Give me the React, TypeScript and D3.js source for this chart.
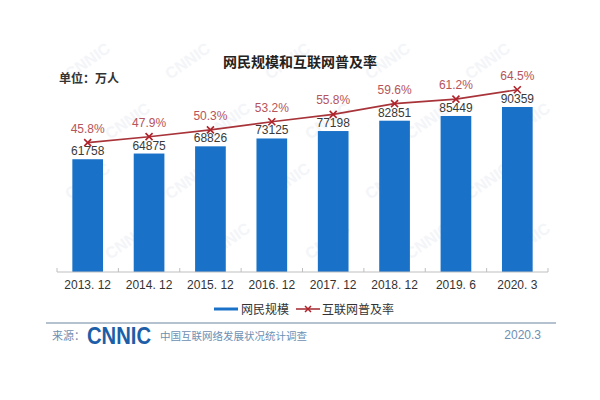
import * as d3 from 'd3';
import { useEffect, useRef } from 'react';

const categories = ['2013. 12', '2014. 12', '2015. 12', '2016. 12', '2017. 12', '2018. 12', '2019. 6', '2020. 3'];
const users = [61758, 64875, 68826, 73125, 77198, 82851, 85449, 90359];
const rates = [45.8, 47.9, 50.3, 53.2, 55.8, 59.6, 61.2, 64.5];

const width = 600;
const height = 400;
const font = '"Liberation Sans", Arial, sans-serif';
const cjk = '"Noto Sans CJK SC", sans-serif';

export default function App() {
  const ref = useRef<SVGSVGElement>(null);

  useEffect(() => {
    const svg = d3.select(ref.current);
    svg.selectAll('*').remove();

    const base = 272;
    const x = d3.scaleBand<string>().domain(categories).range([57, 548]).paddingInner(0.5).paddingOuter(0.25);
    const y = d3.scaleLinear().domain([0, 100000]).range([base, base - 182.6]);
    const yp = d3.scaleLinear().domain([0, 100]).range([base, base - 282.5]);
    const step = x.step();

    // faint watermark, kept inside the frame
    const wm = svg.append('g').attr('fill', '#f3f5f8').attr('font-family', font).attr('font-weight', 'bold').attr('font-size', 16);
    for (let r = 0; r < 4; r++) {
      for (let c = 0; c < 5; c++) {
        const wx = 70 + c * 100 + (r % 2) * 40;
        const wy = 80 + r * 60;
        wm.append('text').attr('transform', `translate(${wx},${wy}) rotate(-35)`).text('CNNIC');
      }
    }

    svg.append('text')
      .attr('x', 300).attr('y', 67).attr('text-anchor', 'middle')
      .attr('font-family', cjk).attr('font-weight', 'bold').attr('font-size', 14).attr('fill', '#222')
      .text('网民规模和互联网普及率');

    svg.append('text')
      .attr('x', 59).attr('y', 83)
      .attr('font-family', cjk).attr('font-weight', 'bold').attr('font-size', 12).attr('fill', '#333')
      .text('单位：万人');

    // bars
    svg.append('g').selectAll('rect').data(users).join('rect')
      .attr('x', (_, i) => x(categories[i])!)
      .attr('y', (d) => y(d))
      .attr('width', x.bandwidth())
      .attr('height', (d) => base - y(d))
      .attr('fill', '#1a72c8');

    svg.append('g').selectAll('text').data(users).join('text')
      .attr('x', (_, i) => x(categories[i])! + x.bandwidth() / 2)
      .attr('y', (d) => y(d) - 4)
      .attr('text-anchor', 'middle')
      .attr('font-family', font).attr('font-size', 12).attr('fill', '#3a3a3a')
      .text((d) => d);

    // axis
    svg.append('line').attr('x1', 57).attr('x2', 548).attr('y1', base).attr('y2', base)
      .attr('stroke', '#bfbfbf').attr('stroke-width', 1);
    const bounds = categories.map((c) => x(c)! + x.bandwidth() / 2 - step / 2);
    bounds.push(x(categories[categories.length - 1])! + x.bandwidth() / 2 + step / 2);
    svg.append('g').selectAll('line').data(bounds).join('line')
      .attr('x1', (d) => d).attr('x2', (d) => d).attr('y1', base).attr('y2', base - 4)
      .attr('stroke', '#bfbfbf');

    svg.append('g').selectAll('text').data(categories).join('text')
      .attr('x', (d) => x(d)! + x.bandwidth() / 2)
      .attr('y', 289)
      .attr('text-anchor', 'middle')
      .attr('font-family', font).attr('font-size', 12).attr('fill', '#333')
      .text((d) => d);

    // rate line
    const pts = rates.map((r, i) => [x(categories[i])! + x.bandwidth() / 2, yp(r)] as [number, number]);
    svg.append('path').attr('d', d3.line()(pts)!)
      .attr('fill', 'none').attr('stroke', '#a8343a').attr('stroke-width', 1.6);

    const s = 3.5;
    svg.append('g').selectAll('path').data(pts).join('path')
      .attr('d', ([px, py]) => `M${px - s},${py - s}L${px + s},${py + s}M${px - s},${py + s}L${px + s},${py - s}`)
      .attr('stroke', '#b0232b').attr('stroke-width', 1.6);

    svg.append('g').selectAll('text').data(rates).join('text')
      .attr('x', (_, i) => pts[i][0])
      .attr('y', (_, i) => pts[i][1] - 10)
      .attr('text-anchor', 'middle')
      .attr('font-family', font).attr('font-size', 12).attr('fill', '#b5545a')
      .text((d) => `${d.toFixed(1)}%`);

    // legend
    const lg = svg.append('g');
    lg.append('line').attr('x1', 214).attr('x2', 238).attr('y1', 309).attr('y2', 309)
      .attr('stroke', '#1a72c8').attr('stroke-width', 3);
    lg.append('text').attr('x', 241).attr('y', 313.5)
      .attr('font-family', cjk).attr('font-size', 12).attr('fill', '#333').text('网民规模');
    lg.append('line').attr('x1', 296).attr('x2', 320).attr('y1', 309).attr('y2', 309)
      .attr('stroke', '#a8343a').attr('stroke-width', 1.6);
    lg.append('path').attr('d', `M${308 - 3},${306}L${308 + 3},${312}M${308 - 3},${312}L${308 + 3},${306}`)
      .attr('stroke', '#b0232b').attr('stroke-width', 1.5);
    lg.append('text').attr('x', 322).attr('y', 313.5)
      .attr('font-family', cjk).attr('font-size', 12).attr('fill', '#333').text('互联网普及率');

    // footer
    svg.append('line').attr('x1', 46).attr('x2', 556).attr('y1', 323).attr('y2', 323)
      .attr('stroke', '#b4c1cf').attr('stroke-width', 2);
    svg.append('text').attr('x', 52).attr('y', 340)
      .attr('font-family', cjk).attr('font-size', 11).attr('fill', '#6d8fb3').text('来源：');
    svg.append('text').attr('x', 87).attr('y', 344)
      .attr('font-family', font).attr('font-weight', 'bold').attr('font-size', 23)
      .attr('textLength', 64).attr('lengthAdjust', 'spacingAndGlyphs')
      .attr('fill', '#1c5ea8').text('CNNIC');
    svg.append('text').attr('x', 160).attr('y', 340)
      .attr('font-family', cjk).attr('font-size', 10.5).attr('fill', '#6d8fb3').text('中国互联网络发展状况统计调查');
    svg.append('text').attr('x', 541).attr('y', 339).attr('text-anchor', 'end')
      .attr('font-family', font).attr('font-size', 12).attr('fill', '#6d8fb3').text('2020.3');
  }, []);

  return (
    <svg ref={ref} width={width} height={height} style={{ position: 'absolute', left: 0, top: 0, background: '#fff' }} />
  );
}
